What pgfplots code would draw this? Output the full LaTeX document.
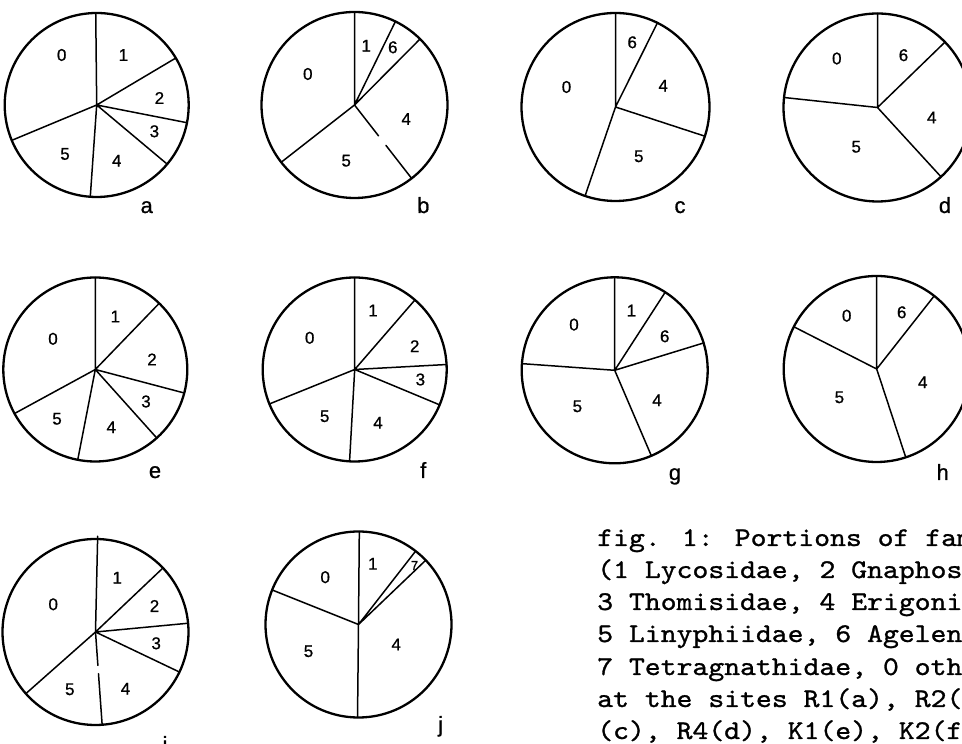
\documentclass[border=0pt]{standalone}
\usepackage{fontspec}
\setmainfont{Liberation Sans}[FakeBold=0.8]
\newfontfamily\capfont{lmmono10-regular.otf}[FakeBold=1.0]
\usepackage{pgfplots}
\pgfplotsset{compat=1.18}
\usepgfplotslibrary{polar}

% one pie = one polar axis, the outer ring is the axis line
\pgfplotsset{
  pie/.style={scale only axis, width=#1, height=#1, anchor=origin,
    xmin=0, xmax=360, ymin=0, ymax=1,
    xtick=\empty, ytick=\empty, grid=none, clip=false,
    separate axis lines,
    axis line style={line width=2.3pt},
    y axis line style={draw=none}},
  cut/.style={black, line width=1.5pt, mark=none, line cap=round, line join=round},
}
% slice number, shifted from the centre (in px of the scan)
\newcommand{\dig}[3]{\node[font=\fontsize{17}{17}\selectfont, inner sep=0pt,
  xshift=#1pt, yshift=#2pt] at (axis cs:0,0) {#3};}
\newcommand{\site}[3]{\node[font=\fontsize{22}{22}\selectfont, anchor=base, inner sep=0pt]
  at (#1,#2) {#3};}
\newcommand{\capline}[2]{\node[font=\capfont\fontsize{27}{27}\selectfont, anchor=base west,
  inner sep=0pt, xscale=1.12, transform shape] at (597,#1) {#2};}

\begin{document}
\begin{tikzpicture}[x=1pt, y=1pt]
\path[use as bounding box] (0,0) rectangle (962,744);
\clip (0,0) rectangle (962,744);

% boundary angles in degrees (counter-clockwise from east), slices run clockwise from the top

% a  R1
\begin{polaraxis}[pie=184pt, at={(96.7pt,639pt)}]
\addplot[cut] coordinates {(0,0) (90.6,1) (0,0) (30.7,1) (0,0) (-11.1,1) (0,0) (-40,1) (0,0) (-94,1) (0,0) (-157.4,1)};
\dig{-35}{50}{0}\dig{26.7}{50}{1}\dig{62.7}{7}{2}\dig{57.7}{-26.3}{3}\dig{20}{-55.7}{4}\dig{-31.7}{-49}{5}
\end{polaraxis}

% b  R2
\begin{polaraxis}[pie=186pt, at={(354.5pt,639pt)}]
\addplot[cut] coordinates {(0,0) (90,1) (0,0) (63.9,1) (0,0) (45.2,1) (0,0) (-142,1)};
\addplot[cut] coordinates {(-52.1,0) (-52.1,0.42)};
\addplot[cut] coordinates {(-52.1,0.55) (-52.1,1)};
\dig{11.7}{59.3}{1}\dig{38.3}{57.7}{6}\dig{-46.7}{31}{0}\dig{51.7}{-14}{4}\dig{-8.3}{-55.7}{5}
\end{polaraxis}

% c  R3
\begin{polaraxis}[pie=188pt, at={(615.5pt,637pt)}]
\addplot[cut] coordinates {(0,0) (90,1) (0,0) (63.5,1) (0,0) (-18.1,1) (0,0) (-108.9,1)};
\dig{16.7}{64.7}{6}\dig{-49}{20}{0}\dig{47.7}{21.3}{4}\dig{23.3}{-49.3}{5}
\end{polaraxis}

% d  R4
\begin{polaraxis}[pie=188pt, at={(877.5pt,636.5pt)}]
\addplot[cut] coordinates {(0,0) (90,1) (0,0) (44.1,1) (0,0) (-47.5,1) (0,0) (173.9,1)};
\dig{-40.7}{49}{0}\dig{26}{52.3}{6}\dig{54.3}{-10}{4}\dig{-21.3}{-39.3}{5}
\end{polaraxis}

% e  K1
\begin{polaraxis}[pie=184pt, at={(95.3pt,374.5pt)}]
\addplot[cut] coordinates {(0,0) (90,1) (0,0) (46,1) (0,0) (-14.8,1) (0,0) (-48.1,1) (0,0) (-101,1) (0,0) (-151.4,1)};
\dig{20}{53}{1}\dig{-42.3}{30.7}{0}\dig{56.7}{10}{2}\dig{50.7}{-32}{3}\dig{16}{-57.7}{4}\dig{-38.3}{-49.3}{5}
\end{polaraxis}

% f  K2
\begin{polaraxis}[pie=184pt, at={(354.7pt,374.5pt)}]
\addplot[cut] coordinates {(0,0) (90,1) (0,0) (49.1,1) (0,0) (3.1,1) (0,0) (-22.6,1) (0,0) (-93.2,1) (0,0) (-158,1)};
\dig{18.3}{59}{1}\dig{-45}{31.7}{0}\dig{60}{23.3}{2}\dig{65.7}{-10}{3}\dig{23.3}{-53.3}{4}\dig{-30}{-46.7}{5}
\end{polaraxis}

% g
\begin{polaraxis}[pie=186pt, at={(614.7pt,373.7pt)}]
\addplot[cut] coordinates {(0,0) (90,1) (0,0) (57.1,1) (0,0) (17.1,1) (0,0) (-66.8,1) (0,0) (175.9,1)};
\dig{16.7}{59.7}{1}\dig{-40.7}{45.7}{0}\dig{50}{34}{6}\dig{42.3}{-30}{4}\dig{-37.3}{-36}{5}
\end{polaraxis}

% h
\begin{polaraxis}[pie=186pt, at={(876.7pt,375pt)}]
\addplot[cut] coordinates {(0,0) (90,1) (0,0) (51.8,1) (0,0) (-71.8,1) (0,0) (153,1)};
\dig{-30}{53.3}{0}\dig{25}{56.7}{6}\dig{46}{-13.3}{4}\dig{-37.3}{-28.3}{5}
\end{polaraxis}

% i
\begin{polaraxis}[pie=186pt, at={(95.5pt,112pt)}]
\addplot[cut] coordinates {(0,0) (88.7,1.03) (0,0) (43.5,1) (0,0) (5.4,1) (0,0) (-25.5,1) (0,0) (-138.5,1)};
\addplot[cut] coordinates {(-85.9,0) (-85.9,0.36)};
\addplot[cut] coordinates {(-85.9,0.45) (-85.9,1)};
\dig{21.7}{54.3}{1}\dig{-42.3}{27.7}{0}\dig{59}{26}{2}\dig{60.7}{-11.3}{3}\dig{30}{-56.7}{4}\dig{-25.7}{-57.3}{5}
\end{polaraxis}

% j
\begin{polaraxis}[pie=186pt, at={(358.5pt,119.5pt)}]
\addplot[cut] coordinates {(0,0) (89.5,1) (0,0) (52.1,1) (0,0) (43.7,1) (0,0) (-90.6,1) (0,0) (158.2,1)};
\dig{14.3}{60.7}{1}\dig{-33.3}{47.3}{0}\dig{37.7}{-20}{4}\dig{-50}{-26.7}{5}
\node[font=\fontsize{13}{13}\selectfont, inner sep=0pt, xshift=56pt, yshift=59pt] at (axis cs:0,0) {7};
\end{polaraxis}

\site{146.7}{531}{a}\site{423.3}{531}{b}\site{680}{531}{c}\site{945}{531}{d}
\site{155}{266}{e}\site{423.3}{266}{f}\site{675}{264}{g}\site{942.7}{264}{h}
\site{165}{-8}{i}\site{440.7}{12}{j}

\capline{198}{fig. 1: Portions of families}
\capline{166}{(1 Lycosidae, 2 Gnaphosidae,}
\capline{134}{3 Thomisidae, 4 Erigonidae,}
\capline{102}{5 Linyphiidae, 6 Agelenidae,}
\capline{69}{7 Tetragnathidae, 0 others)}
\capline{37}{at the sites R1(a), R2(b), R3}
\capline{5}{(c), R4(d), K1(e), K2(f)}
\end{tikzpicture}
\end{document}
